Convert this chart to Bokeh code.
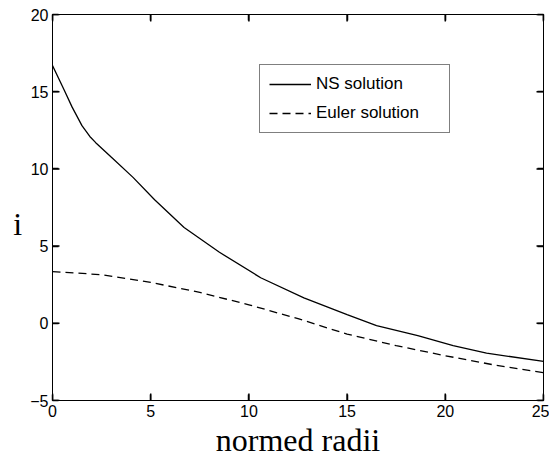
from bokeh.plotting import figure
from bokeh.models import (Range1d, FixedTicker, LinearAxis, Legend, LegendItem)
from bokeh.embed import file_html
from bokeh.resources import INLINE

# ---- data ----
ns_x = [0, 0.6, 1.0, 1.5, 1.9, 2.2, 3.0, 4.1, 5.2, 6.7, 8.5, 10.6, 12.8, 15.0, 16.5, 18.6, 20.4, 22.1, 25.0]
ns_y = [16.7, 15.1, 14.0, 12.8, 12.1, 11.7, 10.75, 9.45, 8.0, 6.2, 4.6, 2.95, 1.65, 0.56, -0.15, -0.8, -1.45, -1.93, -2.47]

eu_x = [0, 2.5, 5.0, 7.5, 10.0, 12.5, 15.0, 17.5, 20.0, 22.5, 25.0]
eu_y = [3.35, 3.15, 2.65, 2.0, 1.2, 0.3, -0.7, -1.45, -2.1, -2.7, -3.2]

x_ticks = [0, 5, 10, 15, 20, 25]
y_ticks = [-5, 0, 5, 10, 15, 20]

x_label = "normed radii"
y_label = "i"
series_names = ["NS solution", "Euler solution"]

TICK_FONT = "Liberation Sans"
LABEL_FONT = "Liberation Serif"

X0, X1, Y0, Y1 = 0, 25, -5, 20
FRAME_W, FRAME_H = 491, 386   # frame size in px (549-52-6, 461-14-61)
TICK_PX = 7

p = figure(width=549, height=461, output_backend="svg", toolbar_location=None,
           x_range=Range1d(X0, X1), y_range=Range1d(Y0, Y1),
           min_border_left=52, min_border_right=6, min_border_top=14, min_border_bottom=61,
           x_axis_location=None, y_axis_location=None)
p.grid.visible = False
p.outline_line_color = "black"
p.outline_line_width = 1
p.background_fill_color = "white"
p.border_fill_color = "white"


def style_axis(ax, ticks, show_labels):
    ax.ticker = FixedTicker(ticks=ticks)
    ax.major_tick_in = 6
    ax.major_tick_out = 0
    ax.major_tick_line_width = 1.5
    ax.minor_tick_line_color = None
    ax.axis_line_color = "black"
    ax.major_tick_line_color = "black"
    ax.major_label_text_font = TICK_FONT
    ax.major_label_text_color = "black"
    if show_labels:
        ax.major_label_text_font_size = "16px"
        ax.major_label_standoff = 4
    else:
        ax.major_label_text_font_size = "0px"
        ax.major_label_standoff = 0


bottom = LinearAxis(axis_label=x_label)
style_axis(bottom, x_ticks, True)
bottom.major_label_overrides = {t: str(t) for t in x_ticks}
bottom.axis_label_text_font = LABEL_FONT
bottom.axis_label_text_font_size = "32px"
bottom.axis_label_text_font_style = "normal"
bottom.axis_label_text_color = "black"
bottom.axis_label_standoff = 2
p.add_layout(bottom, "below")

left = LinearAxis(axis_label="\n" + y_label)
style_axis(left, y_ticks, True)
left.major_label_overrides = {t: ("\u22125" if t == -5 else str(t)) for t in y_ticks}
left.axis_label_text_font = LABEL_FONT
left.axis_label_text_font_size = "32px"
left.axis_label_text_font_style = "normal"
left.axis_label_text_color = "black"
left.axis_label_text_line_height = 0.9
left.axis_label_orientation = "horizontal"
left.axis_label_standoff = 5
p.add_layout(left, "left")

top = LinearAxis()
style_axis(top, x_ticks, False)
p.add_layout(top, "above")

right = LinearAxis()
style_axis(right, y_ticks, False)
p.add_layout(right, "right")

# inward tick marks on all four sides, placed at the tick values
dx = TICK_PX * (X1 - X0) / FRAME_W
dy = TICK_PX * (Y1 - Y0) / FRAME_H
tick_style = dict(line_color="black", line_width=1.5)
p.segment(x0=x_ticks, y0=[Y0] * len(x_ticks), x1=x_ticks, y1=[Y0 + dy] * len(x_ticks), **tick_style)
p.segment(x0=x_ticks, y0=[Y1] * len(x_ticks), x1=x_ticks, y1=[Y1 - dy] * len(x_ticks), **tick_style)
p.segment(x0=[X0] * len(y_ticks), y0=y_ticks, x1=[X0 + dx] * len(y_ticks), y1=y_ticks, **tick_style)
p.segment(x0=[X1] * len(y_ticks), y0=y_ticks, x1=[X1 - dx] * len(y_ticks), y1=y_ticks, **tick_style)

r_ns = p.line(ns_x, ns_y, line_color="black", line_width=1.3)
r_eu = p.line(eu_x, eu_y, line_color="black", line_width=1.3, line_dash="8 5")

legend = Legend(items=[LegendItem(label=series_names[0], renderers=[r_ns]),
                       LegendItem(label=series_names[1], renderers=[r_eu])],
                location=(207, 267))
legend.border_line_color = "black"
legend.border_line_width = 1
legend.background_fill_color = "white"
legend.background_fill_alpha = 1
legend.padding = 9
legend.spacing = 9
legend.glyph_height = 20
legend.label_height = 20
legend.glyph_width = 42
legend.label_standoff = 5
legend.label_width = 124
legend.label_text_font = TICK_FONT
legend.label_text_font_size = "17px"
legend.label_text_color = "black"
legend.margin = 0
p.add_layout(legend, "center")

open("out.html", "w").write(file_html(p, INLINE))
